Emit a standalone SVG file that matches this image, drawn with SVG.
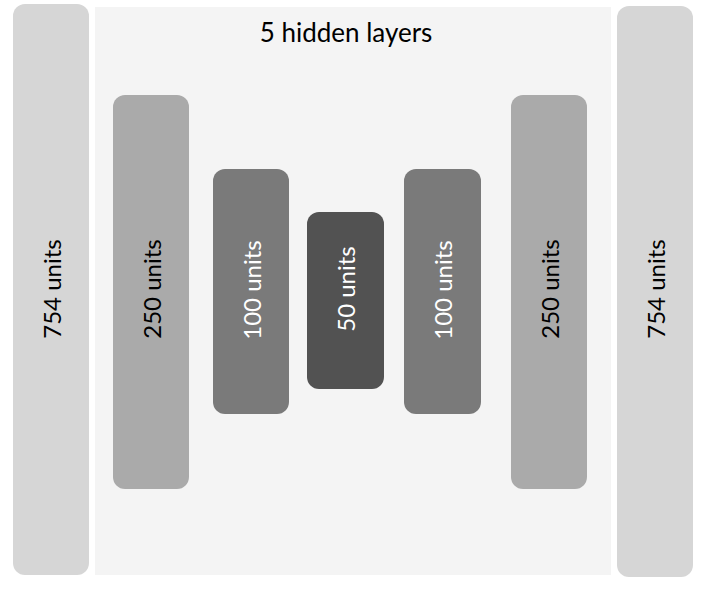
<svg xmlns="http://www.w3.org/2000/svg" width="706" height="591" viewBox="0 0 706 591">
<style>
.lbl{font-family:"Lato","Open Sans","DejaVu Sans",sans-serif;font-size:24px;text-anchor:middle;dominant-baseline:central}
.title{font-size:26px}
.dark{fill:#000}
.light{fill:#fff}
</style>
<rect width="706" height="591" fill="#fff"/>
<g id="hidden">
<rect x="95" y="7" width="516" height="568" fill="#f4f4f4"/>
<text class="lbl title dark" x="346" y="32">5 hidden layers</text>
</g>
<g id="in754">
<rect x="13" y="4" width="76" height="571" rx="12" fill="#d6d6d6"/>
<text class="lbl dark" transform="translate(51,289) rotate(-90)">754 units</text>
</g>
<g id="h250a">
<rect x="113" y="95" width="76" height="394" rx="12" fill="#aaaaaa"/>
<text class="lbl dark" transform="translate(151,289) rotate(-90)">250 units</text>
</g>
<g id="h100a">
<rect x="213" y="169" width="76" height="245" rx="12" fill="#7a7a7a"/>
<text class="lbl light" transform="translate(251,290) rotate(-90)">100 units</text>
</g>
<g id="h50">
<rect x="307" y="212" width="77" height="177" rx="12" fill="#525252"/>
<text class="lbl light" transform="translate(345,289) rotate(-90)">50 units</text>
</g>
<g id="h100b">
<rect x="404" y="169" width="77" height="245" rx="12" fill="#7a7a7a"/>
<text class="lbl light" transform="translate(442,290) rotate(-90)">100 units</text>
</g>
<g id="h250b">
<rect x="511" y="95" width="76" height="394" rx="12" fill="#aaaaaa"/>
<text class="lbl dark" transform="translate(549,289) rotate(-90)">250 units</text>
</g>
<g id="out754">
<rect x="617" y="6" width="76" height="571" rx="12" fill="#d6d6d6"/>
<text class="lbl dark" transform="translate(655,289) rotate(-90)">754 units</text>
</g>
<g id="connectors"></g>
</svg>
